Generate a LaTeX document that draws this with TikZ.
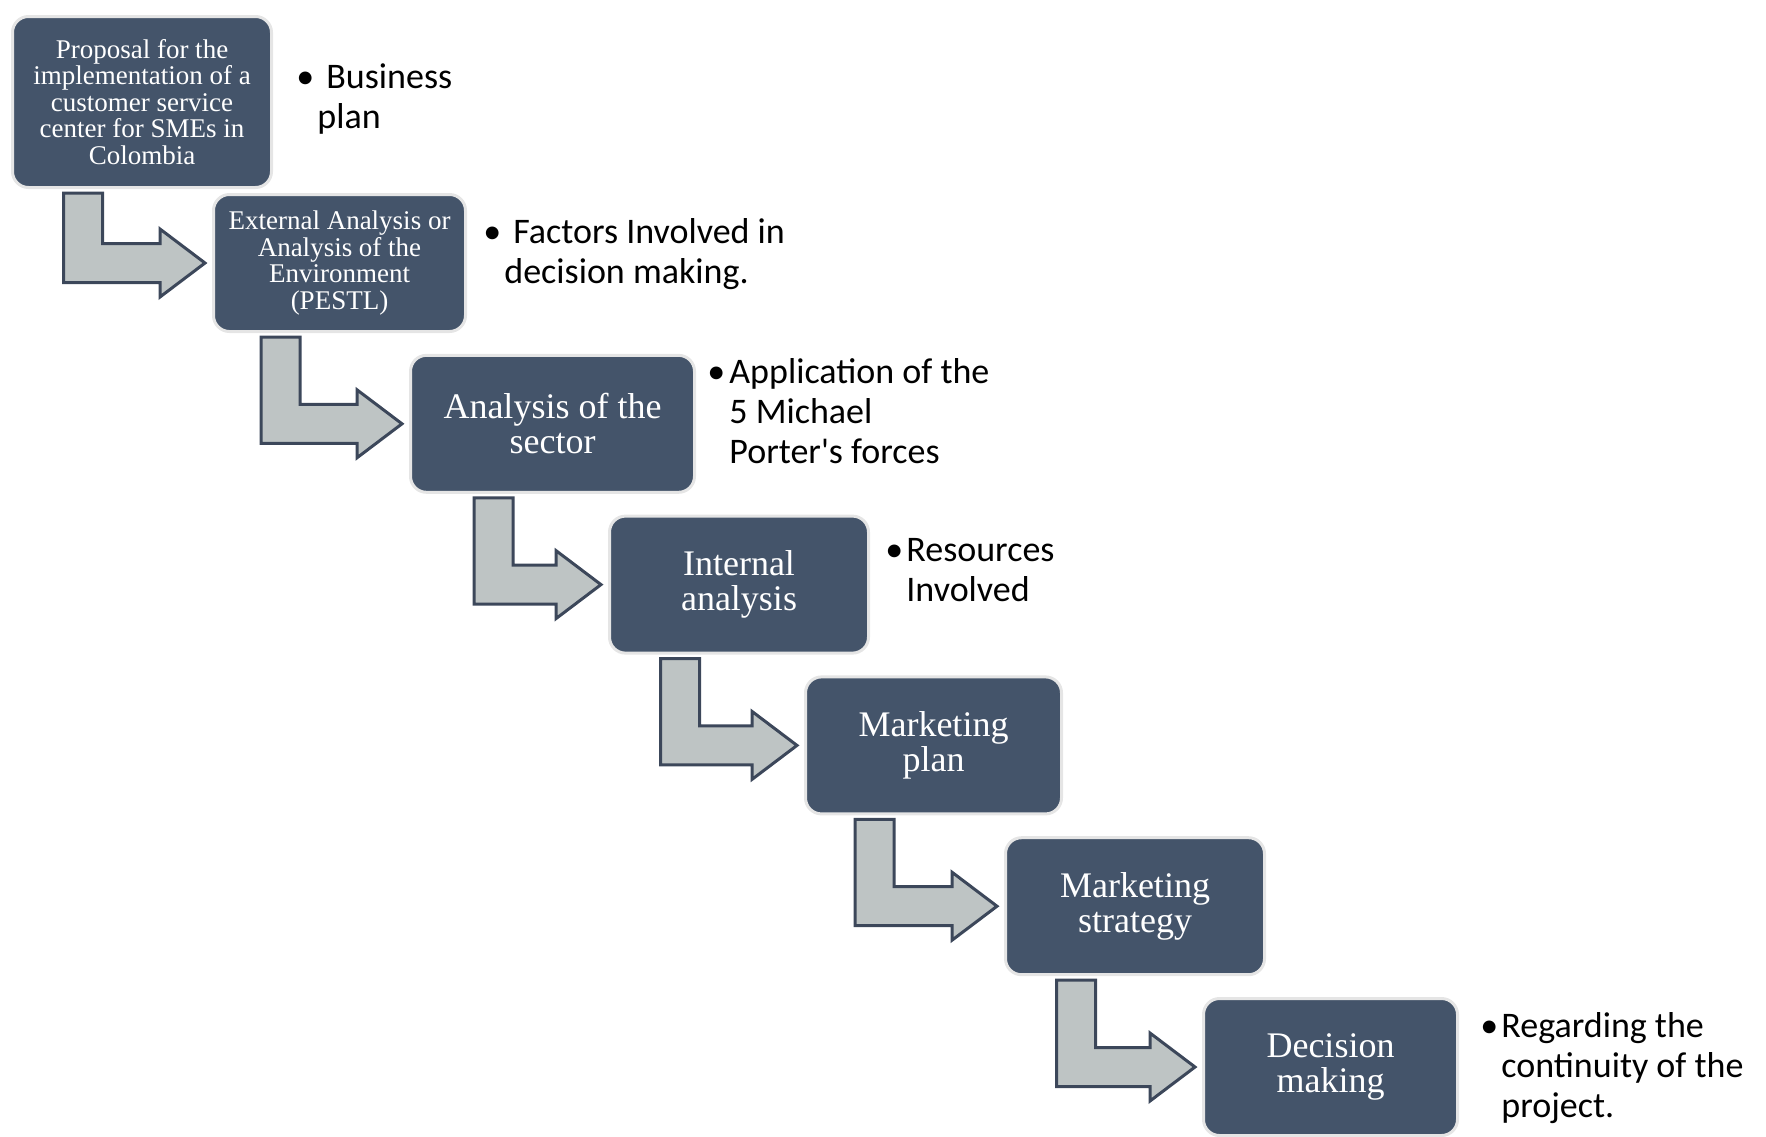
\documentclass[tikz,border=0pt]{standalone}
\usepackage{fontspec}
\setmainfont{Liberation Serif}
\newfontfamily\notefont{Carlito}
\usepackage{tikz}
\usetikzlibrary{positioning, calc}
\definecolor{stageblue}{HTML}{44546A}
\definecolor{arrowgray}{HTML}{BEC4C4}
\definecolor{arrowline}{HTML}{3C475A}
\tikzstyle{stage} = [rectangle, rounded corners=8pt, minimum width=128pt, minimum height=68.5pt, align=center, draw=black!10, line width=1.5pt, fill=stageblue, text=white, inner sep=2pt, font=\fontsize{18pt}{17.5pt}\selectfont]
\tikzstyle{smallstage} = [font=\fontsize{13.5pt}{13.3pt}\selectfont]
\tikzstyle{note} = [align=left, anchor=north west, inner sep=0pt, font=\notefont\fontsize{18pt}{20pt}\selectfont]
\tikzstyle{bentarrow} = [fill=arrowgray, draw=arrowline, line width=1.5pt]
% bent block arrow from under one stage to the left side of the next
\newcommand{\stagearrow}[2]{%
  \draw [bentarrow] let \p1 = ($(#1.south)+(-39.25pt,-2pt)$), \p2 = ($(#2.west)+(-3.5pt,0)$) in
    (\x1,\y1) -- (\x1,\y2-9.75pt) -- (\x2-22.5pt,\y2-9.75pt) -- (\x2-22.5pt,\y2-17pt) -- (\x2,\y2)
    -- (\x2-22.5pt,\y2+17pt) -- (\x2-22.5pt,\y2+9.75pt) -- (\x1+19.5pt,\y2+9.75pt) -- (\x1+19.5pt,\y1) -- cycle;}

\begin{document}
\begin{tikzpicture}
            \useasboundingbox (0,0) rectangle (883pt,-568pt);

            \node (proposal) [stage, smallstage, minimum width=129.5pt, minimum height=85.5pt, anchor=north west] at (5.5pt,-7.5pt) {Proposal for the\\implementation of a\\customer service\\center for SMEs in\\Colombia};
            \node (external) [stage, smallstage, minimum width=126pt, below right=2pt and 100.5pt of proposal.south west] {External Analysis or\\Analysis of the\\Environment\\(PESTL)};
            \node (sector) [stage, minimum width=142pt, below right=10.4pt and 98.5pt of external.south west] {Analysis of the\\sector};
            \node (internal) [stage, minimum width=129.5pt, below right=10.4pt and 99.5pt of sector.south west] {Internal\\analysis};
            \node (mktplan) [stage, below right=10.4pt and 98pt of internal.south west] {Marketing\\plan};
            \node (mktstrategy) [stage, minimum width=129.5pt, below right=10.4pt and 100pt of mktplan.south west] {Marketing\\strategy};
            \node (decision) [stage, minimum width=127pt, below right=10.4pt and 99pt of mktstrategy.south west] {Decision\\making};

            \node (proposalnote) [note, below right=24pt and 11.5pt of proposal.north east] {\makebox[15pt][l]{\textbullet}Business\\\hspace{10.5pt}plan};
            \node (externalnote) [note, below right=12.75pt and 8pt of external.north east] {\makebox[15pt][l]{\textbullet}Factors Involved in\\\hspace{10.5pt}decision making.};
            \node (sectornote) [note, below right=2pt and 5.5pt of sector.north east] {\makebox[11pt][l]{\textbullet}Application of the\\\hspace{11pt}5 Michael\\\hspace{11pt}Porter\textquotesingle s forces};
            \node (internalnote) [note, below right=11.75pt and 7.5pt of internal.north east] {\makebox[10.5pt][l]{\textbullet}Resources\\\hspace{10.5pt}Involved};
            \node (decisionnote) [note, below right=7.75pt and 10.5pt of decision.north east] {\makebox[10.5pt][l]{\textbullet}Regarding the\\\hspace{10.5pt}continuity of the\\\hspace{10.5pt}project.};

            \stagearrow{proposal}{external}
            \stagearrow{external}{sector}
            \stagearrow{sector}{internal}
            \stagearrow{internal}{mktplan}
            \stagearrow{mktplan}{mktstrategy}
            \stagearrow{mktstrategy}{decision}

\end{tikzpicture}
\end{document}
